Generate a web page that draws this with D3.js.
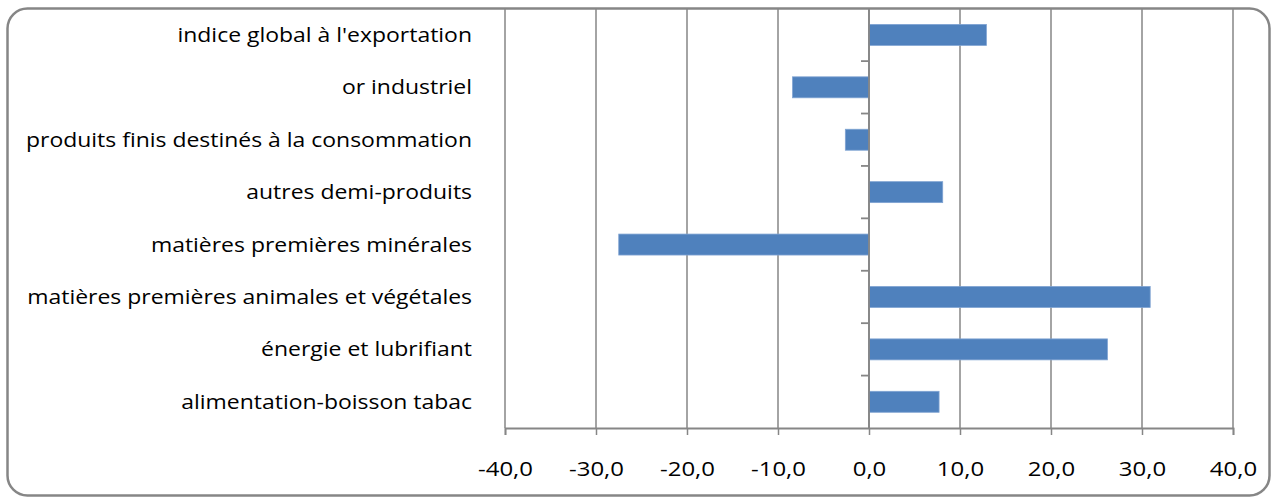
<!DOCTYPE html>
<html><head><meta charset="utf-8">
<script src="https://cdn.jsdelivr.net/npm/d3@7"></script>
<style>body{margin:0;background:#fff}svg{display:block}</style>
</head><body>
<script>
const categories = ["indice global à l'exportation","or industriel","produits finis destinés à la consommation","autres demi-produits","matières premières minérales","matières premières animales et végétales","énergie et lubrifiant","alimentation-boisson tabac"];
const values = [12.9, -8.4, -2.6, 8.1, -27.5, 30.9, 26.2, 7.7];
const tickValues = [-40,-30,-20,-10,0,10,20,30,40];

const W=1272,H=497;
const svg=d3.select("body").append("svg").attr("width",W).attr("height",H);
const font="'Open Sans', sans-serif";
const grey="#868686";
const x=d3.scaleLinear().domain([-40,40]).range([505,1233]);
const y=d3.scaleBand().domain(categories).range([8.7,428]).paddingInner(0.6).paddingOuter(0.3);
const yb=d3.scaleBand().domain(categories).range([8.7,428]);

// gridlines
svg.append("g").selectAll("line").data(tickValues).join("line")
 .attr("x1",d=>x(d)).attr("x2",d=>x(d)).attr("y1",8.7).attr("y2",428)
 .attr("stroke",grey).attr("stroke-width",1.5);

// bottom axis
const ax=svg.append("g").attr("transform","translate(0,428)")
 .call(d3.axisBottom(x).tickValues(tickValues).tickSize(7).tickPadding(27).tickFormat(d=>d3.format(".1f")(d).replace(".",",").replace("\u2212","-")));
ax.select(".domain").attr("stroke",grey).attr("stroke-width",1.8);
ax.selectAll(".tick line").attr("stroke",grey).attr("stroke-width",1.5);
ax.selectAll("text").attr("font-family",font).attr("font-size",20).attr("fill","#000");

// bars
svg.append("g").selectAll("rect").data(values).join("rect")
 .attr("x",d=>x(Math.min(0,d))).attr("width",d=>Math.abs(x(d)-x(0)))
 .attr("y",(d,i)=>y(categories[i])).attr("height",y.bandwidth())
 .attr("fill","#4F81BD").attr("stroke","#7FA3D2").attr("stroke-width",0.8);

// vertical zero axis with category ticks
svg.append("line").attr("x1",x(0)).attr("x2",x(0)).attr("y1",8.7).attr("y2",428).attr("stroke",grey).attr("stroke-width",1.8);
svg.append("g").selectAll("line").data(categories.slice(1)).join("line")
 .attr("x1",x(0)-8).attr("x2",x(0)).attr("y1",d=>yb(d)).attr("y2",d=>yb(d))
 .attr("stroke",grey).attr("stroke-width",1.8);

// category labels
const lbl=svg.append("g").selectAll("text").data(categories).join("text")
 .attr("x",472).attr("y",d=>yb(d)+yb.bandwidth()/2).attr("dy","0.35em")
 .attr("text-anchor","end").attr("font-family",font).attr("font-size",20).attr("fill","#000").text(d=>d);
// match reference text widths
const longest=lbl.filter((d,i)=>i===2).node().getComputedTextLength();
const sc=446/longest;
lbl.each(function(){const w=this.getComputedTextLength();d3.select(this).attr("textLength",w*sc).attr("lengthAdjust","spacingAndGlyphs");});
const tw=ax.selectAll("text").filter(d=>d===-30).node().getComputedTextLength();
const sc2=55/tw;
ax.selectAll("text").each(function(){const w=this.getComputedTextLength();d3.select(this).attr("textLength",w*sc2).attr("lengthAdjust","spacingAndGlyphs");});

// outer border
svg.append("rect").attr("x",7.5).attr("y",8.5).attr("width",1262).attr("height",487).attr("rx",20)
 .attr("fill","none").attr("stroke",grey).attr("stroke-width",2.5);
</script>
</body></html>
